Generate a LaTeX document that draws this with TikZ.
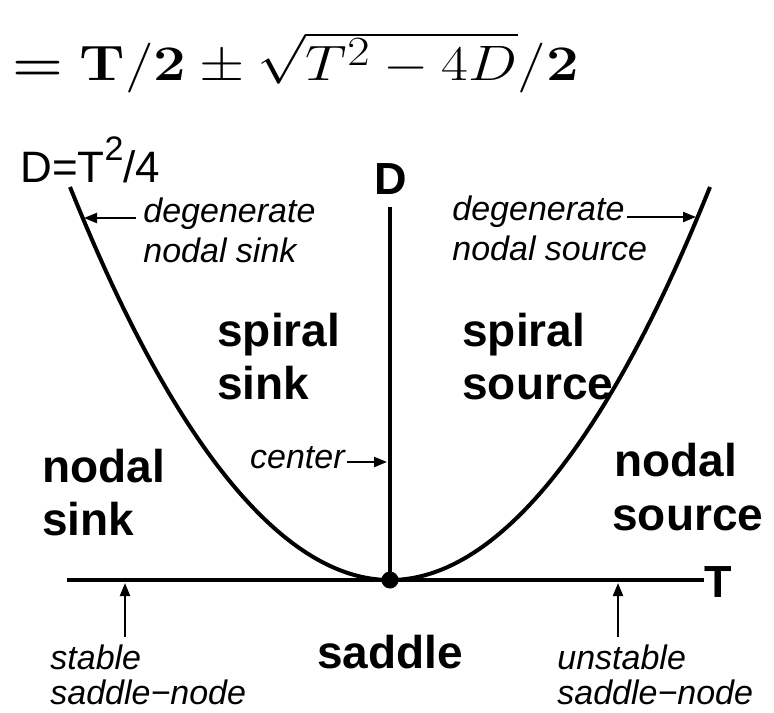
\documentclass[tikz,border=0pt]{standalone}
\usepackage{amsmath}
\usepackage[no-math]{fontspec}
\setmainfont{Liberation Sans}
\usetikzlibrary{arrows.meta}
\begin{document}
\begin{tikzpicture}[x=0.5pt,y=-0.5pt,
  curve/.style={line width=2pt},
  arr/.style={line width=1.1pt,-{Triangle[length=6.5pt,width=5pt]}},
  region/.style={font=\fontsize{23}{25}\selectfont\bfseries, inner sep=0pt, anchor=base west},
  axislabel/.style={font=\fontsize{22.5}{24}\selectfont\bfseries, inner sep=0pt},
  note/.style={font=\fontsize{17}{18}\selectfont\itshape, inner sep=0pt, anchor=base west},
  dot/.style={circle, fill, inner sep=0pt, minimum size=8.5pt},
]
\useasboundingbox (0,0) rectangle (774,712);

% formula
\node[anchor=base west, inner sep=0pt] (formula) at (12,80)
  {\scalebox{1.17}[1]{\fontsize{28}{32}\selectfont$\boldsymbol{=}\mathbf{T}/\mathbf{2}\pm\sqrt{T^2-4D}/\mathbf{2}$}};

% axes
\node[dot] (o) at (390,580) {};
\coordinate (tl) at (67,580);
\node[axislabel, anchor=base west] (T) at (704,597) {T};
\node[axislabel, anchor=base] (D) at (391,194) {D};
\coordinate (dtop) at (390,207);
\draw[curve] (tl) -- (T.west |- o);
\draw[curve] (o.center) -- (dtop);

% parabola
\coordinate (pl) at (70,187);
\coordinate (pr) at (710,187);
\draw[curve] (pl) parabola bend (o.center) (pr);
\node[font=\fontsize{22}{24}\selectfont, inner sep=0pt, anchor=base west] (curvelabel) at (20,182)
  {D=T\raisebox{0.5em}{\fontsize{17}{17}\selectfont 2}/4};

% region labels
\node[region] (spiralL) at (217,346) {spiral};
\node[region] (sinkL) at (217,399) {sink};
\node[region] (spiralR) at (462,346) {spiral};
\node[region] (sourceR) at (462,399) {source};
\node[region] (nodalL) at (42,482) {nodal};
\node[region] (nsinkL) at (42,535) {sink};
\node[region] (nodalR) at (614,476) {nodal};
\node[region] (nsourceR) at (612,530) {source};
\node[region, anchor=base] (saddle) at (390,668) {saddle};

% notes
\node[note] (dsink1) at (143,222) {degenerate};
\node[note] (dsink2) at (143,262) {nodal sink};
\node[note] (dsrc1) at (452,220) {degenerate};
\node[note] (dsrc2) at (452,260) {nodal source};
\node[note, anchor=base east] (center) at (345,468) {center};
\node[note] (stable1) at (50,669) {stable};
\node[note] (stable2) at (50,704) {saddle−node};
\node[note] (unstable1) at (557,669) {unstable};
\node[note] (unstable2) at (557,704) {saddle−node};

% arrow targets
\coordinate (cL) at (84,218);
\coordinate (cR) at (696,217);
\coordinate (cC) at (387,462);
\coordinate (sA) at (125,583);
\coordinate (uA) at (618,583);

\draw[arr] ([xshift=-3.5]dsink1.west |- cL) -- (cL);
\draw[arr] ([xshift=1]dsrc1.east |- cR) -- (cR);
\draw[arr] ([xshift=1]center.east |- cC) -- (cC);
\draw[arr] ([yshift=3.5]stable1.north -| sA) -- (sA);
\draw[arr] ([yshift=3.5]unstable1.north -| uA) -- (uA);
\end{tikzpicture}
\end{document}
